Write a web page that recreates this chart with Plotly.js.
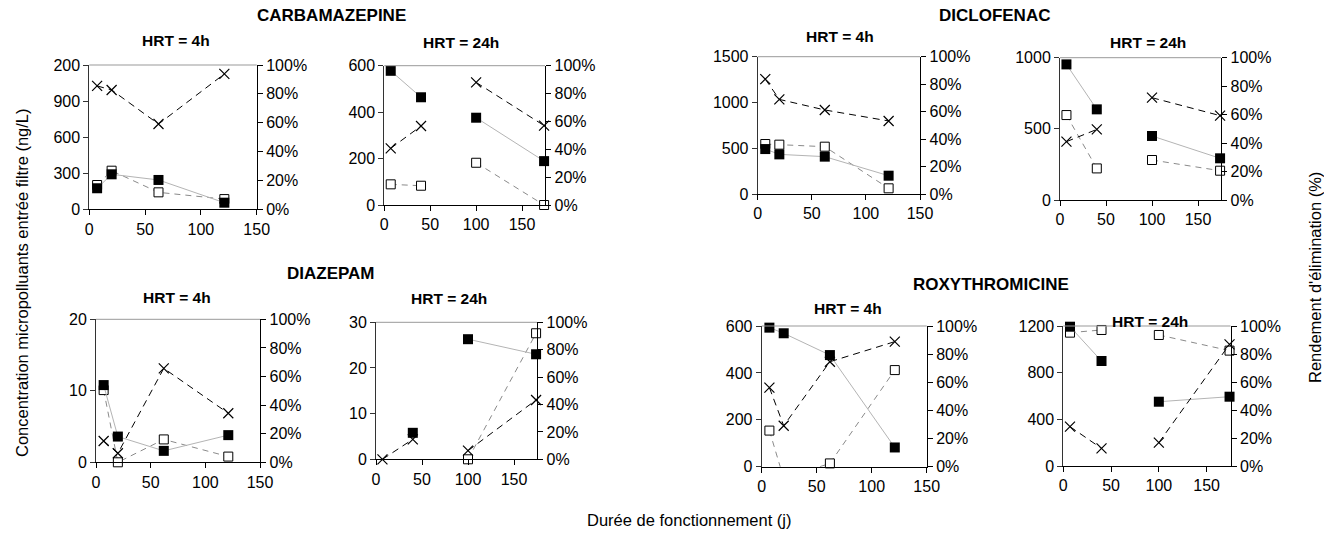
<!DOCTYPE html>
<html><head><meta charset="utf-8">
<script src="https://cdn.plot.ly/plotly-3.0.1.min.js"></script>
<style>html,body{margin:0;padding:0;background:#fff}#chart{width:1324px;height:537px}</style>
</head><body><div id="chart"></div>
<script>
// ---- data ----
const DAYS_4H = [7, 20, 62, 121];
const DAYS_24H = [7, 40, null, 100, 174];

const carba4_in = [175, 291, 244, 55];
const carba4_out = [202, 321, 141, 85];
const carba4_rend = [85.5, 82.7, 59.1, 93.8];
const carba24_in = [578, 464, null, 376, 189];
const carba24_out = [89, 83, null, 182, 0];
const carba24_rend = [40.7, 56.7, null, 88, 57];

const diclo4_in = [491, 433, 408, 200];
const diclo4_out = [546, 539, 517, 62];
const diclo4_rend = [83.7, 68.9, 61.2, 53.2];
const diclo24_in = [953, 637, null, 450, 293];
const diclo24_out = [597, 222, null, 281, 206];
const diclo24_rend = [41, 49.6, null, 71.9, 59.3];

const diaz4_in = [10.8, 3.6, 1.6, 3.8];
const diaz4_out = [10.1, 0, 3.2, 0.8];
const diaz4_rend = [14.9, 6.3, 65.7, 34.3];
const diaz24_in = [null, 5.8, null, 26.3, 23.0];
const diaz24_out = [null, null, null, 0, 27.6];
const diaz24_rend = [0, 14.6, null, 6.3, 43.3];

const roxy4_in = [593, 569, 476, 82];
const roxy4_out = [154, -50, 14, 412];
const roxy4_rend = [56.2, 29.1, 74.6, 88.9];
const roxy24_in = [1194, 900, null, 551, 594];
const roxy24_out = [1143, 1166, null, 1123, 989];
const roxy24_rend = [28.1, 12.6, null, 16.7, 86.9];

const X_TICKS = [0, 50, 100, 150];
const PCT_TICKS = [0, 20, 40, 60, 80, 100];
const PCT_TICKTEXT = ['0%', '20%', '40%', '60%', '80%', '100%'];
const carba4_ticks = [0, 300, 600, 900, 1200];
const carba4_ticktext = ['0', '300', '600', '900', '200'];
const carba24_ticks = [0, 200, 400, 600];
const diclo4_ticks = [0, 500, 1000, 1500];
const diclo24_ticks = [0, 500, 1000];
const diaz4_ticks = [0, 10, 20];
const diaz24_ticks = [0, 10, 20, 30];
const roxy4_ticks = [0, 200, 400, 600];
const roxy24_ticks = [0, 400, 800, 1200];

const DRUGS = ['CARBAMAZEPINE', 'DICLOFENAC', 'DIAZEPAM', 'ROXYTHROMICINE'];
const HRT_LABELS = ['HRT = 4h', 'HRT = 24h'];

// ---- layout geometry ----
const W = 1324, H = 537;
const px = v => v / W, py = v => 1 - v / H;

const panels = [
  {days: DAYS_4H, xmax: 150, inp: carba4_in, out: carba4_out, rend: carba4_rend, ymax: 1200, ticks: carba4_ticks, ticktext: carba4_ticktext, box: [89.3, 256.7, 65, 209.3]},
  {days: DAYS_24H, xmax: 175, inp: carba24_in, out: carba24_out, rend: carba24_rend, ymax: 600, ticks: carba24_ticks, box: [384.3, 545, 65.7, 205]},
  {days: DAYS_4H, xmax: 150, inp: diclo4_in, out: diclo4_out, rend: diclo4_rend, ymax: 1500, ticks: diclo4_ticks, box: [757.7, 920, 56.7, 194]},
  {days: DAYS_24H, xmax: 175, inp: diclo24_in, out: diclo24_out, rend: diclo24_rend, ymax: 1000, ticks: diclo24_ticks, box: [1060, 1221, 57.7, 200]},
  {days: DAYS_4H, xmax: 150, inp: diaz4_in, out: diaz4_out, rend: diaz4_rend, ymax: 20, ticks: diaz4_ticks, box: [96, 260, 319.3, 462.3]},
  {days: DAYS_24H, xmax: 175, inp: diaz24_in, out: diaz24_out, rend: diaz24_rend, ymax: 30, ticks: diaz24_ticks, box: [376, 537, 322.3, 459.3]},
  {days: DAYS_4H, xmax: 150, inp: roxy4_in, out: roxy4_out, rend: roxy4_rend, ymax: 600, ticks: roxy4_ticks, box: [761.7, 926.7, 326, 466.7]},
  {days: DAYS_24H, xmax: 175, inp: roxy24_in, out: roxy24_out, rend: roxy24_rend, ymax: 1200, ticks: roxy24_ticks, box: [1063.3, 1230.5, 326, 466]}
];

const FONT = 'Liberation Sans, Arial, sans-serif';
const TICKFONT = {family: FONT, size: 16, color: '#000'};
const traces = [];
const layout = {
  width: W, height: H,
  margin: {l: 0, r: 0, t: 0, b: 0},
  paper_bgcolor: '#fff', plot_bgcolor: 'rgba(0,0,0,0)',
  showlegend: false,
  font: {family: FONT, color: '#000'},
  shapes: [], annotations: []
};

panels.forEach((p, i) => {
  const n = i + 1;
  const xa = 'x' + n, yl = 'y' + (2 * n - 1), yr = 'y' + (2 * n);
  const xk = 'xaxis' + n, ylk = 'yaxis' + (2 * n - 1), yrk = 'yaxis' + (2 * n);
  const [l, r, t, b] = p.box;
  layout[xk] = {
    domain: [px(l), px(r)], range: [0, p.xmax], anchor: yl,
    tickvals: X_TICKS, ticktext: X_TICKS.map(String),
    ticks: 'outside', ticklen: 5, tickcolor: '#000', tickwidth: 1,
    showline: true, linecolor: '#000', linewidth: 1,
    showgrid: false, zeroline: false, tickfont: TICKFONT
  };
  layout[ylk] = {
    domain: [py(b), py(t)], range: [0, p.ymax], anchor: xa,
    tickvals: p.ticks, ticktext: p.ticktext || p.ticks.map(String),
    ticks: 'outside', ticklen: 5, tickcolor: '#333', tickwidth: 1,
    showline: true, linecolor: '#333', linewidth: 1,
    showgrid: false, zeroline: false, tickfont: TICKFONT
  };
  layout[yrk] = {
    overlaying: yl, side: 'right', anchor: xa, range: [0, 100],
    tickvals: PCT_TICKS, ticktext: PCT_TICKTEXT,
    ticks: 'outside', ticklen: 5, tickcolor: '#000', tickwidth: 1,
    showline: true, linecolor: '#000', linewidth: 1.3,
    showgrid: false, zeroline: false, tickfont: TICKFONT
  };
  layout.shapes.push({type: 'line', xref: xa + ' domain', yref: yl + ' domain',
    x0: 0, x1: 1, y0: 1, y1: 1, line: {color: '#999', width: 1}});

  traces.push({
    x: p.days, y: p.out, xaxis: xa, yaxis: yl, type: 'scatter', mode: 'lines+markers',
    connectgaps: false, cliponaxis: false,
    line: {color: '#8a8a8a', width: 1, dash: '6px,5px'},
    marker: {symbol: 'square', size: 9, color: '#fff', line: {color: '#000', width: 1}}
  });
  traces.push({
    x: p.days, y: p.inp, xaxis: xa, yaxis: yl, type: 'scatter', mode: 'lines+markers',
    connectgaps: false, cliponaxis: false,
    line: {color: '#b4b4b4', width: 1},
    marker: {symbol: 'square', size: 10, color: '#000', line: {color: '#000', width: 0}}
  });
  traces.push({
    x: p.days, y: p.rend, xaxis: xa, yaxis: yr, type: 'scatter', mode: 'lines+markers',
    connectgaps: false, cliponaxis: false,
    line: {color: '#000', width: 1, dash: '7px,5px'},
    marker: {symbol: 'x-thin-open', size: 10, color: '#000', line: {color: '#000', width: 1.2}}
  });
});

function ann(text, x, y, size, bold, angle) {
  layout.annotations.push({
    text: bold ? '<b>' + text + '</b>' : text, xref: 'paper', yref: 'paper',
    x: px(x), y: py(y), xanchor: 'center', yanchor: 'middle', showarrow: false,
    textangle: angle || 0, font: {family: FONT, size: size, color: '#000'}
  });
}
ann(DRUGS[0], 331, 15, 17, true);
ann(DRUGS[1], 994, 15, 17, true);
ann(DRUGS[2], 331, 273, 17, true);
ann(DRUGS[3], 991, 284, 17, true);
ann(HRT_LABELS[0], 176, 40, 15.5, true);
ann(HRT_LABELS[1], 461, 43, 15.5, true);
ann(HRT_LABELS[0], 840, 37, 15.5, true);
ann(HRT_LABELS[1], 1148, 43, 15.5, true);
ann(HRT_LABELS[0], 177, 297, 15.5, true);
ann(HRT_LABELS[1], 449, 298, 15.5, true);
ann(HRT_LABELS[0], 848, 308, 15.5, true);
ann(HRT_LABELS[1], 1150, 321, 15.5, true);
ann('Concentration micropolluants entrée filtre (ng/L)', 22, 283, 16.5, false, -90);
ann("Rendement d'élimination (%)", 1315, 278, 16.5, false, -90);
ann('Durée de fonctionnement (j)', 689, 520, 16.5, false);

Plotly.newPlot('chart', traces, layout, {staticPlot: true, displayModeBar: false});
</script></body></html>
